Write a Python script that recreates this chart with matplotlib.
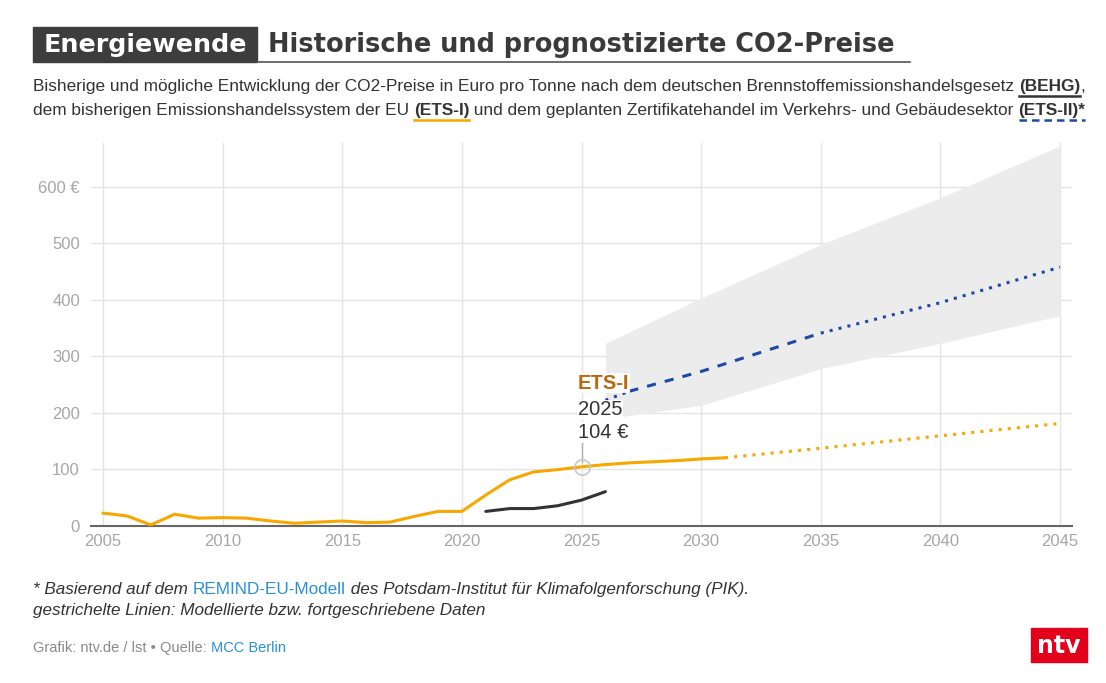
import matplotlib
matplotlib.use("Agg")
import matplotlib.pyplot as plt
from matplotlib.patches import Rectangle
from matplotlib.lines import Line2D

plt.rcParams["font.family"] = ["Liberation Sans", "DejaVu Sans"]

# ETS-I (EU emissions trading), historical + modelled
ets1_years = [2005, 2006, 2007, 2008, 2009, 2010, 2011, 2012, 2013, 2014, 2015,
              2016, 2017, 2018, 2019, 2020, 2021, 2022, 2023, 2024, 2025, 2026,
              2027, 2028, 2029, 2030, 2031]
ets1_values = [22, 17, 1, 20, 13, 14, 13, 8, 4, 6, 8,
               5, 6, 16, 25, 25, 54, 81, 95, 99, 104, 108,
               111, 113, 115, 118, 120]
ets1_fc_years = [2031, 2035, 2040, 2045]
ets1_fc_values = [120, 137, 159, 181]

# BEHG (national fuel emissions trading)
behg_years = [2021, 2022, 2023, 2024, 2025, 2026]
behg_values = [25, 30, 30, 35, 45, 60]

# ETS-II (modelled, REMIND-EU)
ets2_years = [2026, 2027, 2030, 2035, 2040, 2045]
ets2_values = [222, 238, 273, 341, 395, 458]
band_years = [2026, 2030, 2035, 2040, 2045]
band_low = [189, 213, 278, 323, 372]
band_high = [323, 403, 498, 581, 673]

y_ticks = [0, 100, 200, 300, 400, 500, 600]
y_labels = ["0", "100", "200", "300", "400", "500", "600 €"]
x_ticks = [2005, 2010, 2015, 2020, 2025, 2030, 2035, 2040, 2045]

ORANGE = "#f7a800"
BLUE = "#1d4aa6"
DARK = "#333333"
GRID = "#e4e4e4"
TICK = "#a6a6a6"
LINK = "#2b8fd6"


def fit_width(t, renderer, target):
    """Scale a text's font size so that it spans `target` pixels."""
    w = t.get_window_extent(renderer).width
    t.set_fontsize(t.get_fontsize() * target / w)


def draw_runs(fig, renderer, x, y, runs, size):
    """Place text pieces one after another, optional underline per piece."""
    for text, weight, color, style, underline in runs:
        t = fig.text(x, y, text, fontsize=size, fontweight=weight, color=color,
                     style=style, va="baseline", ha="left",
                     transform=None)
        bb = t.get_window_extent(renderer)
        if underline is not None:
            ucol, uls = underline
            fig.add_artist(Line2D([bb.x0, bb.x1], [y - 5, y - 5], color=ucol,
                                  lw=1.8, ls=uls, transform=None))
        x = bb.x1


fig = plt.figure(figsize=(11.06, 6.83), dpi=100)
H = 683
ax = fig.add_axes([91 / 1106, 1 - 525.5 / H, (1072 - 91) / 1106, (525.5 - 143) / H])

ax.fill_between(band_years, band_low, band_high, color="#ececec", lw=0, zorder=1)
ax.plot(ets1_years, ets1_values, color=ORANGE, lw=2.2, zorder=3,
        solid_capstyle="round")
ax.plot(ets1_fc_years, ets1_fc_values, color=ORANGE, lw=2.2, ls=(0, (1, 2)), zorder=3)
ax.plot(behg_years, behg_values, color=DARK, lw=2.2, zorder=3, solid_capstyle="round")
ax.plot(ets2_years[:2], ets2_values[:2], color=BLUE, lw=2.2, ls=(0, (1, 2)), zorder=3)
ax.plot(ets2_years[1:4], ets2_values[1:4], color=BLUE, lw=2.2, ls=(0, (3, 3)), zorder=3)
ax.plot(ets2_years[3:], ets2_values[3:], color=BLUE, lw=2.2, ls=(0, (1, 2)), zorder=3)

# tooltip-style annotation for ETS-I 2025
hi = ets1_years.index(2025)
ax.plot([2025, 2025], [ets1_values[hi] + 8, 150], color="#b0b0b0", lw=1, zorder=4)
ax.plot([2025], [ets1_values[hi]], marker="o", ms=11, mfc="none", mec="#c8c8c8",
        mew=1.2, zorder=5)
box = dict(facecolor="white", edgecolor="none", pad=0.5, alpha=0.9)
ax.text(2024.85, 252, "ETS-I", fontsize=14.5, fontweight="bold", color="#b8690c",
        va="center", ha="left", zorder=6, bbox=box)
ax.text(2024.85, 205, "2025", fontsize=14.5, color=DARK, va="center", ha="left",
        zorder=6, bbox=box)
ax.text(2024.85, 165, "104 €", fontsize=14.5, color=DARK, va="center", ha="left",
        zorder=6, bbox=box)

ax.set_xlim(2004.5, 2045.5)
ax.set_ylim(0, 678)
ax.set_xticks(x_ticks)
ax.set_yticks(y_ticks)
ax.set_yticklabels(y_labels)
ax.tick_params(length=0, colors=TICK, labelsize=12, pad=8)
ax.tick_params(axis="x", pad=6)
ax.grid(True, color=GRID, lw=1, zorder=0)
ax.set_axisbelow(True)
for side in ["top", "right", "left"]:
    ax.spines[side].set_visible(False)
ax.spines["bottom"].set_color("#666666")
ax.spines["bottom"].set_linewidth(1.5)

fig.canvas.draw()
r = fig.canvas.get_renderer()

# title block
fig.add_artist(Rectangle((33, H - 62), 224, 35, color="#3d3d3d", transform=None))
t1 = fig.text(145, H - 45, "Energiewende", fontsize=18, fontweight="bold",
              color="white", ha="center", va="center", transform=None,
              family="DejaVu Sans")
fit_width(t1, r, 204)
t2 = fig.text(268, H - 45, "Historische und prognostizierte CO2-Preise", fontsize=18,
              fontweight="bold", color="#3a3a3a", ha="left", va="center",
              transform=None, family="DejaVu Sans")
fit_width(t2, r, 626)
fig.add_artist(Line2D([257, 910], [H - 62, H - 62], color="#555555", lw=1.2,
                      transform=None))

sub = 12.4
draw_runs(fig, r, 33, H - 91, [
    ("Bisherige und mögliche Entwicklung der CO2-Preise in Euro pro Tonne nach dem "
     "deutschen Brennstoffemissionshandelsgesetz ", "normal", DARK, "normal", None),
    ("(BEHG)", "bold", DARK, "normal", (DARK, "-")),
    (",", "normal", DARK, "normal", None),
], sub)
draw_runs(fig, r, 33, H - 115, [
    ("dem bisherigen Emissionshandelssystem der EU ", "normal", DARK, "normal", None),
    ("(ETS-I)", "bold", DARK, "normal", (ORANGE, "-")),
    (" und dem geplanten Zertifikatehandel im Verkehrs- und Gebäudesektor ",
     "normal", DARK, "normal", None),
    ("(ETS-II)*", "bold", DARK, "normal", (BLUE, (0, (3, 2)))),
], sub)

draw_runs(fig, r, 33, H - 594, [
    ("* Basierend auf dem ", "normal", DARK, "italic", None),
    ("REMIND-EU-Modell", "normal", LINK, "normal", None),
    (" des Potsdam-Institut für Klimafolgenforschung (PIK).", "normal", DARK,
     "italic", None),
], 12.35)
draw_runs(fig, r, 33, H - 615, [
    ("gestrichelte Linien: Modellierte bzw. fortgeschriebene Daten", "normal", DARK,
     "italic", None),
], 12.35)
draw_runs(fig, r, 33, H - 652, [
    ("Grafik: ntv.de / lst • Quelle: ", "normal", "#8a8a8a", "normal", None),
    ("MCC Berlin", "normal", LINK, "normal", None),
], 10.5)

# ntv logo
fig.add_artist(Rectangle((1031, H - 662), 56, 34, color="#e3001b", transform=None))
fig.text(1059, H - 646, "ntv", fontsize=17, fontweight="bold", color="white",
         ha="center", va="center", transform=None, family="DejaVu Sans")

fig.savefig("out.png", dpi=100)
